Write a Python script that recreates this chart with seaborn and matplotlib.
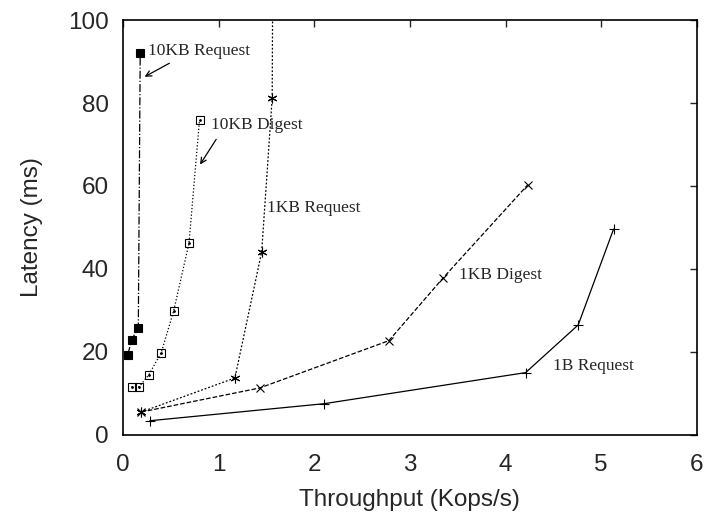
import numpy as np
import pandas as pd
import matplotlib
matplotlib.use("Agg")
import matplotlib.pyplot as plt
import seaborn as sns

# series values (throughput Kops/s, latency ms)
req10k_x = [0.05, 0.09, 0.16, 0.18]
req10k_y = [19.3, 22.9, 25.8, 92.0]

dig10k_x = [0.09, 0.17, 0.27, 0.40, 0.53, 0.69, 0.80]
dig10k_y = [11.6, 11.6, 14.5, 19.8, 29.9, 46.2, 75.9]

req1k_x = [0.19, 1.17, 1.45, 1.56, 1.58]
req1k_y = [5.5, 13.7, 44.1, 81.2, 180.0]

dig1k_x = [0.19, 1.43, 2.78, 3.35, 4.23]
dig1k_y = [5.5, 11.3, 22.7, 37.9, 60.2]

req1b_x = [0.28, 2.10, 4.21, 4.76, 5.13]
req1b_y = [3.4, 7.5, 15.0, 26.5, 49.6]

x_ticks = [0, 1, 2, 3, 4, 5, 6]
y_ticks = [0, 20, 40, 60, 80, 100]

sns.set_style("white")
plt.rcParams["font.family"] = ["Liberation Sans", "DejaVu Sans"]

fig = plt.figure(figsize=(7.11, 5.14), dpi=100)
ax = fig.add_axes([0.173, 0.154, 0.807, 0.807])

asterisk = (6, 2, 0)
series = [
    (req10k_x, req10k_y, "-.", "s", dict(markersize=6, markerfacecolor="black")),
    (dig10k_x, dig10k_y, ":", "s", dict(markersize=6, markerfacecolor="none")),
    (req1k_x, req1k_y, (0, (1.5, 1.5)), asterisk, dict(markersize=7)),
    (dig1k_x, dig1k_y, "--", "x", dict(markersize=6)),
    (req1b_x, req1b_y, "-", "+", dict(markersize=7)),
]
for xs, ys, ls, mk, kw in series:
    df = pd.DataFrame({"x": xs, "y": ys})
    sns.lineplot(data=df, x="x", y="y", ax=ax, sort=False, estimator=None,
                 color="black", linestyle=ls, linewidth=0.9, marker=mk,
                 markeredgecolor="black", markeredgewidth=0.8, **kw)

# dot inside the open squares
ax.plot(dig10k_x, dig10k_y, linestyle="none", marker=".", markersize=2, color="black")

ax.set_xlim(0, 6)
ax.set_ylim(0, 100)
ax.set_xticks(x_ticks)
ax.set_yticks(y_ticks)
ax.tick_params(direction="in", length=5, width=1, top=True, right=True,
               labelsize=17.5)
ax.tick_params(axis="x", pad=14)
ax.tick_params(axis="y", pad=10)
for s in ax.spines.values():
    s.set_linewidth(1.2)
    s.set_color("black")
ax.set_xlabel("Throughput (Kops/s)", fontsize=17.5, labelpad=9)
ax.set_ylabel("Latency (ms)", fontsize=17.5, labelpad=18)

serif = dict(family=["Liberation Serif", "DejaVu Serif"], fontsize=12.5,
             va="center", ha="left")
ax.text(0.26, 92.5, "10KB Request", **serif)
ax.text(0.92, 74.7, "10KB Digest", **serif)
ax.text(1.51, 54.7, "1KB Request", **serif)
ax.text(3.51, 38.5, "1KB Digest", **serif)
ax.text(4.50, 16.6, "1B Request", **serif)

arrow = dict(arrowstyle="->", color="black", lw=0.9)
ax.annotate("", xy=(0.20, 86.0), xytext=(0.51, 89.9), arrowprops=arrow)
ax.annotate("", xy=(0.79, 64.6), xytext=(0.99, 71.8), arrowprops=arrow)

fig.savefig("out.png", dpi=100)
